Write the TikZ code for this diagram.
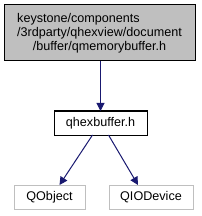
\documentclass[tikz,border=0pt]{standalone}
\usepackage{fontspec}
\usepackage{calc}
\setmainfont{Liberation Sans}
\usetikzlibrary{arrows.meta}
\definecolor{edgeblue}{HTML}{191970}
\definecolor{fillgray}{HTML}{BFBFBF}
\definecolor{bordergray}{HTML}{BFBFBF}
\begin{document}
\begin{tikzpicture}[x=1pt,y=-1pt,
  every node/.style={font=\fontsize{12.6}{14}\selectfont, inner sep=0pt, outer sep=0pt},
  mainbox/.style={draw=black, fill=fillgray, line width=1pt},
  filebox/.style={draw=black, fill=white, line width=1pt},
  extbox/.style={draw=bordergray, fill=white, line width=1pt},
  dep/.style={draw=edgeblue, line width=1pt, -{Triangle[length=8pt,width=8pt]}}]
\useasboundingbox (0,0) rectangle (201,216);
\node[mainbox, minimum width=191, minimum height=56, align=center] (top) at (99.5,33)
  {\makebox[\widthof{/3rdparty/qhexview/document}][l]{keystone/components}\\/3rdparty/qhexview/document\\/buffer/qmemorybuffer.h};
\node[filebox, minimum width=93, minimum height=24] (hex) at (100.5,123) {qhexbuffer.h};
\node[extbox, minimum width=71, minimum height=24] (qobj) at (49.5,197) {QObject};
\node[extbox, minimum width=84, minimum height=24] (qio) at (151,197) {QIODevice};
\draw[dep] (top.south -| hex.north) -- (hex.north);
\draw[dep] ([xshift=-8]hex.south) -- ([xshift=10]qobj.north);
\draw[dep] ([xshift=8]hex.south) -- ([xshift=-13]qio.north);
\end{tikzpicture}
\end{document}
